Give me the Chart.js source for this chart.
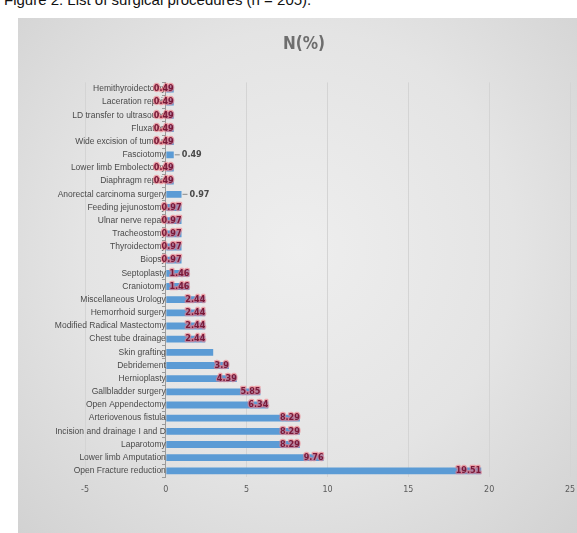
<!DOCTYPE html>
<html>
<head>
<meta charset="utf-8">
<script src="https://cdn.jsdelivr.net/npm/chart.js@4.4.1/dist/chart.umd.min.js"></script>
<style>
  html, body { margin: 0; padding: 0; background: #fff; overflow: hidden; }
  body { width: 577px; height: 533px; position: relative; }
  .caption {
    position: absolute; left: 4px; top: -9px;
    font: 15px "Liberation Sans", Arial, sans-serif; color: #111;
  }
  .card {
    position: absolute; left: 18px; top: 18px; width: 559px; height: 515px;
    background: radial-gradient(ellipse at 50% 45%, #eeeeee 0%, #e4e4e4 55%, #d2d2d2 100%);
  }
  canvas { display: block; }
</style>
</head>
<body>
<div class="caption">Figure 2: List of surgical procedures (n = 205).</div>
<div class="card"><canvas id="procChart" width="559" height="515"></canvas></div>
<script>
// DATA
// ====
const procedures = [
  'Hemithyroidectomy', 'Laceration repair', 'LD transfer to ultrasound', 'Fluxation',
  'Wide excision of tumour', 'Fasciotomy', 'Lower limb Embolectomy', 'Diaphragm repair',
  'Anorectal carcinoma surgery', 'Feeding jejunostomy', 'Ulnar nerve repair', 'Tracheostomy',
  'Thyroidectomy', 'Biopsy', 'Septoplasty', 'Craniotomy',
  'Miscellaneous Urology', 'Hemorrhoid surgery', 'Modified Radical Mastectomy', 'Chest tube drainage',
  'Skin grafting', 'Debridement', 'Hernioplasty', 'Gallbladder surgery',
  'Open Appendectomy', 'Arteriovenous fistula', 'Incision and drainage I and D', 'Laparotomy',
  'Lower limb Amputation', 'Open Fracture reduction'
];
const percentValues = [
  0.49, 0.49, 0.49, 0.49,
  0.49, 0.49, 0.49, 0.49,
  0.97, 0.97, 0.97, 0.97,
  0.97, 0.97, 1.46, 1.46,
  2.44, 2.44, 2.44, 2.44,
  2.93, 3.9, 4.39, 5.85,
  6.34, 8.29, 8.29, 8.29,
  9.76, 19.51
];
const xTicks = [-5, 0, 5, 10, 15, 20, 25];
// labels that sit outside the bar in grey (with a small leader line)
const outsideLabels = ['Fasciotomy', 'Anorectal carcinoma surgery'];
// skin grafting has no visible label in the picture
const hiddenLabels = ['Skin grafting'];

// DATA LABELS PLUGIN
// ==================
const barLabels = {
  id: 'barLabels',
  afterDatasetsDraw(chart) {
    const ctx = chart.ctx;
    const meta = chart.getDatasetMeta(0);
    ctx.save();
    ctx.font = 'bold 9px "DejaVu Sans Condensed", "DejaVu Sans", sans-serif';
    ctx.textBaseline = 'middle';
    meta.data.forEach((bar, i) => {
      const name = procedures[i];
      if (hiddenLabels.includes(name)) return;
      const label = percentValues[i] === 3.9 ? '3.9' : percentValues[i].toFixed(2);
      if (outsideLabels.includes(name)) {
        ctx.strokeStyle = '#8a8a8a';
        ctx.lineWidth = 1;
        ctx.beginPath();
        ctx.moveTo(bar.x + 1, bar.y);
        ctx.lineTo(bar.x + 6, bar.y);
        ctx.stroke();
        ctx.fillStyle = '#4a4a4a';
        ctx.textAlign = 'left';
        ctx.fillText(label, bar.x + 8, bar.y);
        return;
      }
      ctx.textAlign = 'right';
      ctx.lineJoin = 'round';
      ctx.strokeStyle = 'rgba(240,120,130,0.6)';
      ctx.lineWidth = 2.5;
      ctx.strokeText(label, bar.x, bar.y);
      ctx.fillStyle = '#7a1838';
      ctx.fillText(label, bar.x, bar.y);
    });
    ctx.restore();
  }
};

// CHART
// =====
const ctx = document.getElementById('procChart').getContext('2d');
new Chart(ctx, {
  type: 'bar',
  data: {
    labels: procedures,
    datasets: [{
      label: 'N(%)',
      data: percentValues,
      xAxisID: 'x',
      yAxisID: 'y',
      backgroundColor: '#5b9bd5',
      borderWidth: 0,
      barPercentage: 0.9,
      categoryPercentage: 0.58,
    }],
  },
  options: {
    indexAxis: 'y',
    responsive: false,
    animation: false,
    layout: { padding: { left: 20, right: 7, top: 0, bottom: 30 } },
    plugins: {
      legend: { display: false },
      tooltip: { enabled: false },
      title: {
        display: true,
        text: 'N(%)',
        color: '#6e6e6e',
        font: { family: '"DejaVu Sans Condensed", "DejaVu Sans", sans-serif', size: 17, weight: 'bold' },
        padding: { top: 16, bottom: 28 },
      },
    },
    scales: {
      x: {
        min: -5,
        max: 25,
        afterBuildTicks: (scale) => { scale.ticks = xTicks.map((v) => ({ value: v })); },
        // let the last tick label hang into the layout padding
        afterFit: (scale) => { scale.paddingRight = 0; scale.paddingLeft = 0; },
        grid: { color: '#d4d4d4', drawTicks: false },
        border: { display: false },
        ticks: {
          color: '#5a5a5a',
          padding: 8,
          font: { family: '"DejaVu Sans", sans-serif', size: 8 },
        },
      },
      y: {
        type: 'category',
        position: { x: 0 },
        grid: { drawOnChartArea: false, tickLength: 3, color: '#9a9a9a' },
        border: { color: '#9a9a9a' },
        ticks: {
          autoSkip: false,
          color: '#4a4a4a',
          padding: 2,
          font: { family: '"Liberation Sans", Arial, sans-serif', size: 8.5 },
        },
      },
      // empty spacer axis so the plot starts where the picture's does
      spacer: {
        type: 'linear',
        axis: 'y',
        position: 'left',
        grid: { display: false },
        border: { display: false },
        ticks: { display: false },
        afterFit: (scale) => { scale.width = 47; },
      },
    },
  },
  plugins: [barLabels],
});
</script>
</body>
</html>
